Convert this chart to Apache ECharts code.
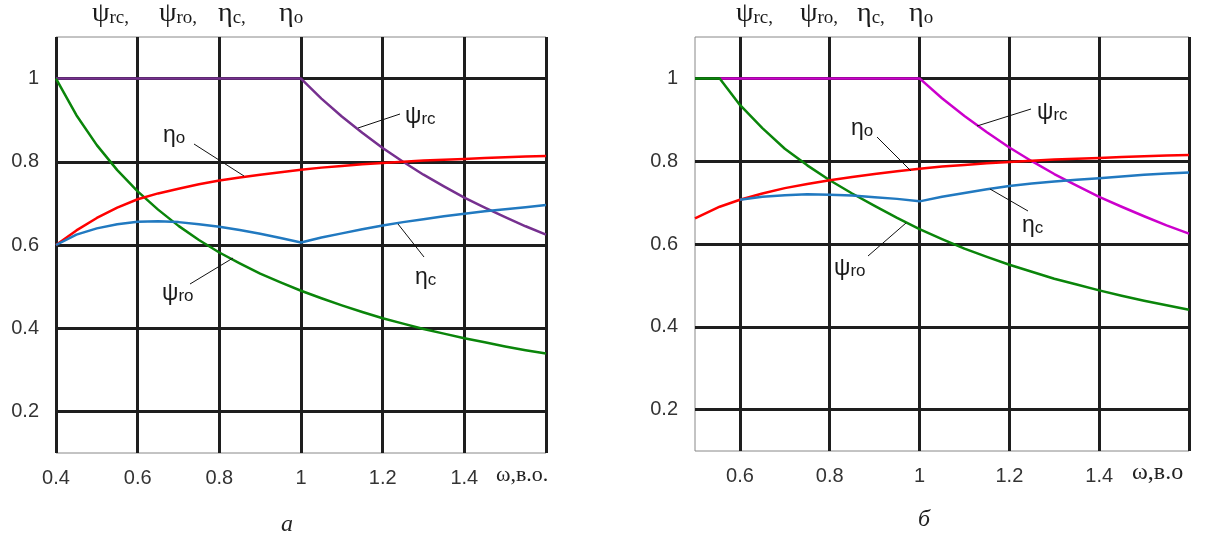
<!DOCTYPE html>
<html>
<head>
<meta charset="utf-8">
<script src="https://cdn.jsdelivr.net/npm/echarts@6/dist/echarts.min.js"></script>
<style>
  html, body { margin: 0; padding: 0; background: #fff; }
  #chart { width: 1206px; height: 542px; }
</style>
</head>
<body>
<div id="chart"></div>
<script>
// panel a: omega 0.4 .. 1.6
var omegaA = [0.4, 0.45, 0.5, 0.55, 0.6, 0.65, 0.7, 0.75, 0.8, 0.85, 0.9, 0.95, 1.0,
              1.05, 1.1, 1.15, 1.2, 1.25, 1.3, 1.35, 1.4, 1.45, 1.5, 1.55, 1.6];
var psiRcA = [1, 1, 1, 1, 1, 1, 1, 1, 1, 1, 1, 1, 1,
              0.952, 0.909, 0.87, 0.833, 0.80, 0.769, 0.741, 0.714, 0.69, 0.667, 0.645, 0.625];
var psiRoA = [1.0, 0.912, 0.84, 0.78, 0.729, 0.685, 0.646, 0.612, 0.582, 0.556, 0.531, 0.51, 0.49,
              0.472, 0.455, 0.439, 0.424, 0.411, 0.398, 0.387, 0.376, 0.366, 0.356, 0.347, 0.339];
var etaOA = [0.60, 0.635, 0.665, 0.69, 0.71, 0.724, 0.735, 0.746, 0.755, 0.762, 0.769, 0.775, 0.781,
             0.786, 0.79, 0.794, 0.797, 0.80, 0.803, 0.805, 0.807, 0.809, 0.811, 0.813, 0.814];
var etaCA = [0.60, 0.625, 0.64, 0.65, 0.656, 0.657, 0.655, 0.65, 0.644, 0.636, 0.627, 0.617, 0.606,
             0.618, 0.628, 0.638, 0.647, 0.655, 0.662, 0.669, 0.675, 0.681, 0.686, 0.691, 0.696];

// panel б: omega 0.5 .. 1.6
var omegaB = [0.5, 0.555, 0.6, 0.65, 0.7, 0.75, 0.8, 0.85, 0.9, 0.95, 1.0,
              1.05, 1.1, 1.15, 1.2, 1.25, 1.3, 1.35, 1.4, 1.45, 1.5, 1.55, 1.6];
var psiRcB = [null, 1, 1, 1, 1, 1, 1, 1, 1, 1, 1,
              0.952, 0.909, 0.87, 0.833, 0.80, 0.769, 0.741, 0.714, 0.69, 0.667, 0.645, 0.625];
var psiRoB = [1, 1, 0.936, 0.88, 0.83, 0.79, 0.754, 0.722, 0.692, 0.663, 0.636,
              0.612, 0.589, 0.569, 0.55, 0.533, 0.516, 0.502, 0.488, 0.475, 0.463, 0.452, 0.441];
var etaOB = [0.662, 0.69, 0.707, 0.722, 0.735, 0.745, 0.754, 0.762, 0.769, 0.776, 0.782,
             0.787, 0.791, 0.795, 0.798, 0.801, 0.804, 0.806, 0.808, 0.81, 0.812, 0.814, 0.815];
var etaCB = [null, null, 0.707, 0.714, 0.718, 0.72, 0.719, 0.717, 0.713, 0.709, 0.703,
             0.714, 0.723, 0.732, 0.74, 0.746, 0.751, 0.755, 0.759, 0.763, 0.767, 0.77, 0.773];

var yMin = 0.1, yMax = 1.1;

function pairs(xs, ys) {
    var out = [];
    for (var i = 0; i < xs.length; i++) {
        if (ys[i] != null) out.push([xs[i], ys[i]]);
    }
    return out;
}

function line(name, xi, xs, ys, color) {
    return {
        name: name,
        type: 'line',
        xAxisIndex: xi,
        yAxisIndex: xi,
        data: pairs(xs, ys),
        showSymbol: false,
        smooth: false,
        z: 5,
        lineStyle: { color: color, width: 2.5, join: 'round' }
    };
}

var sans = 'Liberation Sans, Arial, sans-serif';
var serif = 'Liberation Serif, Times New Roman, serif';

function xAxis(idx, min) {
    return {
        type: 'value', gridIndex: idx, min: min, max: 1.6,
        minInterval: 0.2, maxInterval: 0.2,
        axisLine: { show: false }, axisTick: { show: false },
        splitLine: { show: true, lineStyle: { color: '#1e1e1e', width: 3 },
                     showMinLine: idx == 0, showMaxLine: true },
        axisLabel: { showMinLabel: idx == 0, showMaxLabel: false, margin: 15,
                     fontSize: 20, color: '#333', fontFamily: sans }
    };
}
function yAxis(idx) {
    return {
        type: 'value', gridIndex: idx, min: yMin, max: yMax,
        minInterval: 0.2, maxInterval: 0.2,
        axisLine: { show: false }, axisTick: { show: false },
        splitLine: { show: true, lineStyle: { color: '#1e1e1e', width: 3 },
                     showMinLine: false, showMaxLine: false },
        axisLabel: { showMinLabel: false, showMaxLabel: false, margin: 17, align: 'right',
                     fontSize: 20, color: '#333', fontFamily: sans }
    };
}

// greek letter with subscript
function labelText(x, y, g, s, big, small, font, subLH) {
    return {
        type: 'text', left: x, top: y - 14, z: 10,
        style: {
            text: '{g|' + g + '}{s|' + s + '}',
            rich: {
                g: { fontSize: big, fontFamily: font, fill: '#1a1a1a', lineHeight: 28, verticalAlign: 'bottom' },
                s: { fontSize: small, fontFamily: font, fill: '#1a1a1a', lineHeight: subLH, verticalAlign: 'bottom' }
            }
        }
    };
}
function leader(x1, y1, x2, y2) {
    return { type: 'line', z: 10, shape: { x1: x1, y1: y1, x2: x2, y2: y2 },
             style: { stroke: '#111', lineWidth: 1 } };
}
function plain(x, y, txt, size, font, italic) {
    return { type: 'text', left: x, top: y - size / 2 - 2, z: 10,
             style: { text: txt, fontSize: size, fontFamily: font, fill: '#222',
                      fontStyle: italic ? 'italic' : 'normal' } };
}

var headA = [[92, 'ψ', 'rc,'], [159, 'ψ', 'ro,'], [218, 'η', 'c,'], [279, 'η', 'o']];
var headB = [[736, 'ψ', 'rc,'], [800, 'ψ', 'ro,'], [857, 'η', 'c,'], [909, 'η', 'o']];

var graphics = [];
headA.concat(headB).forEach(function (h) {
    graphics.push(labelText(h[0], 14, h[1], h[2], 28, 19, serif, 20));
});
// panel a annotations
graphics.push(labelText(405, 119, 'ψ', 'rc', 23, 17, sans, 16), leader(358, 128, 400, 114));
graphics.push(labelText(163, 138, 'η', 'o', 23, 17, sans, 16), leader(194, 144, 244, 176));
graphics.push(labelText(415, 280, 'η', 'c', 23, 17, sans, 16), leader(398, 224, 424, 257));
graphics.push(labelText(162, 296, 'ψ', 'ro', 23, 17, sans, 16), leader(190, 284, 233, 258));
// panel б annotations
graphics.push(labelText(1037, 115, 'ψ', 'rc', 23, 17, sans, 16), leader(977, 126, 1031, 109));
graphics.push(labelText(851, 131, 'η', 'o', 23, 17, sans, 16), leader(877, 137, 911, 171));
graphics.push(labelText(1022, 228, 'η', 'c', 23, 17, sans, 16), leader(990, 189, 1028, 211));
graphics.push(labelText(834, 271, 'ψ', 'ro', 23, 17, sans, 16), leader(868, 256, 906, 223));
// axis names and panel letters
graphics.push(plain(496, 477, 'ω,в.о.', 22, serif, false));
graphics.push(plain(1132, 475, 'ω,в.о', 24, serif, false));
graphics.push(plain(281, 527, 'а', 24, serif, true));
graphics.push(plain(918, 522, 'б', 24, serif, true));

var myChart = echarts.init(document.getElementById('chart'));
myChart.setOption({
    animation: false,
    backgroundColor: '#fff',
    grid: [
        { left: 56, right: 660, top: 37, bottom: 89, show: true, borderColor: '#888', borderWidth: 1 },
        { left: 695, right: 17, top: 37, bottom: 91, show: true, borderColor: '#888', borderWidth: 1 }
    ],
    xAxis: [xAxis(0, 0.4), xAxis(1, 0.5)],
    yAxis: [yAxis(0), yAxis(1)],
    series: [
        line('ψrc', 0, omegaA, psiRcA, '#76308f'),
        line('ψro', 0, omegaA, psiRoA, '#0a850a'),
        line('ηo', 0, omegaA, etaOA, '#ff0000'),
        line('ηc', 0, omegaA, etaCA, '#2179c0'),
        line('ψrc', 1, omegaB, psiRcB, '#cc00cc'),
        line('ψro', 1, omegaB, psiRoB, '#0a850a'),
        line('ηo', 1, omegaB, etaOB, '#ff0000'),
        line('ηc', 1, omegaB, etaCB, '#2179c0')
    ],
    graphic: graphics
});
</script>
</body>
</html>
